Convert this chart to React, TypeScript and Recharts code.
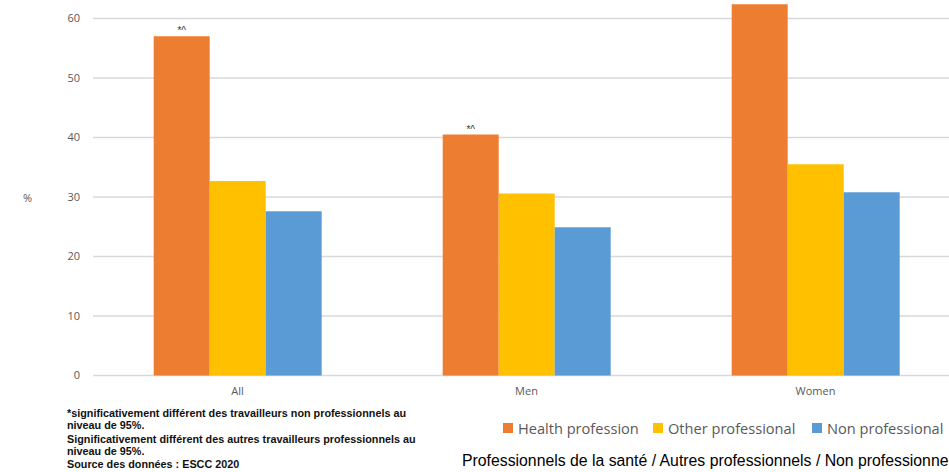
import React from 'react';
import { BarChart, Bar, XAxis, YAxis, CartesianGrid, LabelList } from 'recharts';

// groups on the x axis
const groups = ['All', 'Men', 'Women'];
// % values
const health = [57.0, 40.5, 62.4];
const otherPro = [32.7, 30.6, 35.5];
const nonPro = [27.6, 24.9, 30.8];
// significance marks above the health bars
const healthMarks = ['*^', '*^', ''];
const yTicks = [0, 10, 20, 30, 40, 50, 60];

const series = [
  { key: 'health', name: 'Health profession', color: '#ED7D31', left: 503 },
  { key: 'other', name: 'Other professional', color: '#FFC000', left: 653 },
  { key: 'non', name: 'Non professional', color: '#5B9BD5', left: 812 },
];

const footnotes = [
  { text: '*significativement différent des travailleurs non professionnels au', top: 407 },
  { text: 'niveau de 95%.', top: 419 },
  { text: 'Significativement différent des autres travailleurs professionnels au', top: 433 },
  { text: 'niveau de 95%.', top: 445 },
  { text: 'Source des données : ESCC 2020', top: 458 },
];

const data = groups.map((g, i) => ({
  name: g,
  health: health[i],
  other: otherPro[i],
  non: nonPro[i],
  mark: healthMarks[i],
}));

const tickStyle = { fill: '#595959', fontSize: 11, fontFamily: '"Open Sans", sans-serif' };

const App: React.FC = () => {
  return (
    <div style={{ position: 'relative', width: 949, height: 472, overflow: 'hidden', background: '#fff' }}>
      {/* drop the default body margin so nothing scrolls */}
      <style>{'body{margin:0;overflow:hidden}'}</style>
      <div style={{ position: 'absolute', left: 0, top: -50 }}>
        <BarChart
          width={960}
          height={460}
          data={data}
          margin={{ top: 9, right: 0, bottom: 0, left: 0 }}
          barCategoryGap="21%"
          barGap={0}
        >
          <CartesianGrid vertical={false} stroke="#d9d9d9" strokeWidth={1.5} />
          <XAxis
            dataKey="name"
            axisLine={false}
            tickLine={false}
            tickSize={0}
            tickMargin={12}
            height={34.5}
            tick={tickStyle}
          />
          <YAxis
            domain={[0, 70]}
            ticks={yTicks}
            width={93}
            axisLine={false}
            tickLine={false}
            tickSize={0}
            tickMargin={13}
            tick={tickStyle}
            interval={0}
          />
          {series.map((s) => (
            <Bar key={s.key} dataKey={s.key} name={s.name} fill={s.color} isAnimationActive={false}>
              {s.key === 'health' && (
                <LabelList
                  dataKey="mark"
                  position="top"
                  offset={2}
                  style={{ fill: '#333', fontSize: 10, fontFamily: 'Arial, "Liberation Sans", sans-serif' }}
                />
              )}
            </Bar>
          ))}
        </BarChart>
      </div>

      {/* y axis unit */}
      <div style={{ position: 'absolute', left: 23, top: 190, fontSize: 11, color: '#595959', fontFamily: '"Open Sans", sans-serif' }}>%</div>

      {/* legend */}
      {series.map((s) => (
        <div
          key={s.key}
          style={{
            position: 'absolute',
            left: s.left,
            top: 418,
            display: 'flex',
            alignItems: 'center',
            whiteSpace: 'nowrap',
            fontFamily: '"Open Sans", sans-serif',
            fontSize: 14.6,
            color: '#595959',
          }}
        >
          <span style={{ width: 10, height: 10, background: s.color, display: 'inline-block', marginRight: 5 }} />
          {s.name}
        </div>
      ))}

      {/* footnotes */}
      {footnotes.map((f, i) => (
        <div
          key={i}
          style={{
            position: 'absolute',
            left: 67,
            top: f.top,
            fontSize: 10.8,
            lineHeight: '13px',
            fontWeight: 'bold',
            color: '#111',
            fontFamily: 'Arial, "Liberation Sans", sans-serif',
            whiteSpace: 'nowrap',
          }}
        >
          {f.text}
        </div>
      ))}

      <div
        style={{
          position: 'absolute',
          left: 462,
          top: 452,
          fontSize: 15.8,
          lineHeight: '18px',
          color: '#000',
          fontFamily: 'Arial, "Liberation Sans", sans-serif',
          whiteSpace: 'nowrap',
        }}
      >
        Professionnels de la santé / Autres professionnels / Non professionnels
      </div>
    </div>
  );
};

export default App;
